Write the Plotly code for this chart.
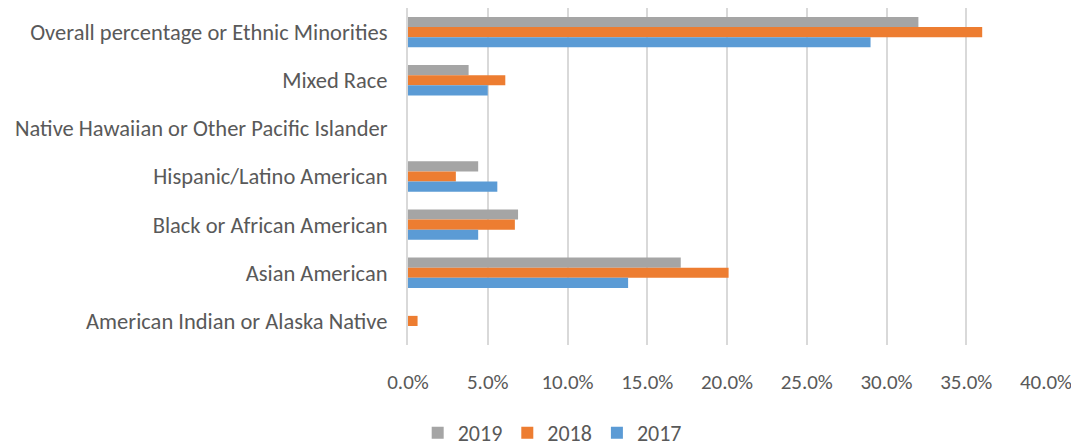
import plotly.graph_objects as go

CATEGORIES = [
    "Overall percentage or Ethnic Minorities",
    "Mixed Race",
    "Native Hawaiian or Other Pacific Islander",
    "Hispanic/Latino American",
    "Black or African American",
    "Asian American",
    "American Indian or Alaska Native",
]
VALUES_2019 = [0.32, 0.038, 0.0, 0.044, 0.069, 0.171, 0.0]
VALUES_2018 = [0.36, 0.061, 0.0, 0.030, 0.067, 0.201, 0.006]
VALUES_2017 = [0.29, 0.050, 0.0, 0.056, 0.044, 0.138, 0.0]

TICK_VALUES = [0, 0.05, 0.10, 0.15, 0.20, 0.25, 0.30, 0.35, 0.40]

COLOR_2019 = "#A5A5A5"
COLOR_2018 = "#ED7D31"
COLOR_2017 = "#5B9BD5"
GRID_COLOR = "#D9D9D9"
TEXT_COLOR = "#595959"
FONT = "Carlito, Calibri, sans-serif"

fig = go.Figure()
for name, vals, color in [
    ("2019", VALUES_2019, COLOR_2019),
    ("2018", VALUES_2018, COLOR_2018),
    ("2017", VALUES_2017, COLOR_2017),
]:
    fig.add_trace(
        go.Bar(
            y=CATEGORIES,
            x=vals,
            name=name,
            orientation="h",
            marker=dict(color=color, line=dict(width=0)),
        )
    )

fig.update_layout(
    width=1079,
    height=446,
    barmode="group",
    bargap=0.37,
    bargroupgap=0,
    paper_bgcolor="white",
    plot_bgcolor="white",
    # page body has an 8px margin, so shift everything up/left by 8
    margin=dict(l=400, r=41, t=0, b=103),
    font=dict(family=FONT, size=22, color=TEXT_COLOR),
    xaxis=dict(
        range=[0, 0.40],
        tickvals=TICK_VALUES,
        tickformat=".1%",
        tickfont=dict(size=21),
        gridcolor=GRID_COLOR,
        gridwidth=2,
        zeroline=False,
        showline=False,
        ticks="",
        ticklabelstandoff=22,
        automargin=False,
    ),
    yaxis=dict(
        autorange="reversed",
        tickfont=dict(size=22.5),
        showgrid=False,
        showline=True,
        linecolor=GRID_COLOR,
        linewidth=2,
        ticks="",
        ticklabelstandoff=14,
        automargin=False,
    ),
    legend=dict(
        orientation="h",
        x=0.226,
        xanchor="center",
        y=-0.2,
        yanchor="top",
        font=dict(size=22),
        itemwidth=30,
    ),
)

fig.write_html("out.html")
